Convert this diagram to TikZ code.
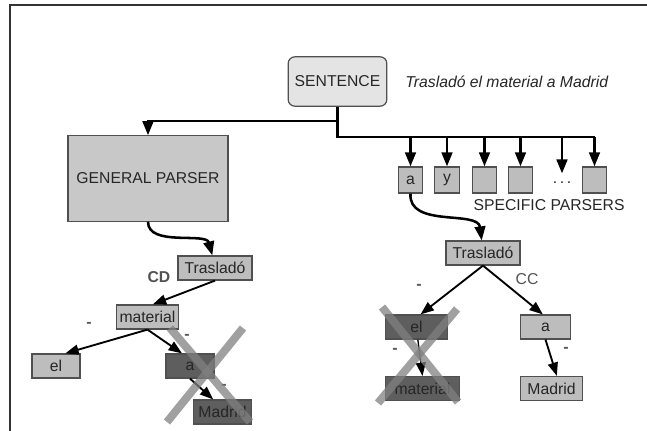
\documentclass[tikz,border=0pt]{standalone}
\usepackage{fontspec}
\setmainfont{Liberation Sans}
\usepackage{tikz}
\usetikzlibrary{arrows.meta,positioning,calc}
\usepackage{xcolor}
\definecolor{sentfill}{HTML}{E4E4E4}
\definecolor{gpfill}{HTML}{C8C8C8}
\definecolor{wordfill}{HTML}{BDBDBD}
\definecolor{cutfill}{HTML}{5E5E5E}
\definecolor{edgegray}{HTML}{505050}

\begin{document}
\begin{tikzpicture}[
    x=0.75pt, y=-0.75pt,
    every node/.style={font=\fontsize{11.8}{13}\selectfont, text=black!85},
    box/.style={rectangle, draw=edgegray, line width=0.9pt, inner sep=0pt},
    sentbox/.style={box, fill=sentfill, rounded corners=5pt,
                    minimum width=74pt, minimum height=37pt},
    parser/.style={box, fill=gpfill, minimum width=120pt, minimum height=64pt},
    spbox/.style={box, fill=wordfill, minimum width=18.5pt, minimum height=19.5pt},
    word/.style={box, fill=wordfill, minimum height=18pt},
    cutword/.style={word, fill=cutfill},
    rel/.style={text=black!68},
    dashmark/.style={text=black!65, font=\bfseries\fontsize{12}{13}\selectfont},
    link/.style={line width=1.9pt, -{Triangle[length=10.5pt,width=8pt]}},
    dep/.style={line width=1.4pt, -{Triangle[length=10pt,width=7.5pt]}},
    cross/.style={line width=6pt, draw=gray, opacity=0.75}
  ]
  \useasboundingbox (0,0) rectangle (647,431);

  %% Frame
  \draw[black!80, line width=1.2pt] (10,431) -- (10,5) -- (647,5);

  %% Sentence
  \node[sentbox] (sent) at (337.5,81.5) {SENTENCE};
  \node[right=10pt of sent, font=\itshape\fontsize{11.8}{13}\selectfont] (text)
        {Trasladó el material a Madrid};

  %% General parser
  \node[parser] (gp) at (148,178.5) {GENERAL PARSER};

  %% Specific parsers
  \node[spbox] (sp1) at (410.5,180) {a};
  \node[spbox] (sp2) at (447,180) {y};
  \node[spbox] (sp3) at (484.5,180) {};
  \node[spbox] (sp4) at (520.5,180) {};
  \node (dots) at (562,183) {.\,.\,.};
  \node[spbox] (sp6) at (594.5,180) {};
  \node[below right=1pt and -2pt of sp3.south west] (splabel) {SPECIFIC PARSERS};

  \coordinate (busl) at (337.5,121);
  \coordinate (busr) at (337.5,137);
  \draw[link] (sent.south) -- (busl) -| (gp.north);
  \draw[line width=1.9pt] (busl) -- (busr) -- (594.5,137);
  \foreach \dst in {sp1,sp2,sp3,sp4,sp6}{
    \draw[link] (busr -| \dst.north) -- (\dst.north);
  }
  \draw[link] (busr -| dots.north) -- ([yshift=3pt]dots.north);

  %% Left tree (general parser)
  \node[word, minimum width=55.5pt] (lTr) at (215,268) {Trasladó};
  \node[word, minimum width=46pt] (lmat) at (147.5,317) {material};
  \node[word, minimum width=36pt] (lel) at (56,366) {el};
  \node[cutword, minimum width=36pt] (la) at (190,366) {a};
  \node[cutword, minimum width=44pt] (lmad) at (222.5,412) {Madrid};

  \draw[link] (gp.south) .. controls (148,247) and (206,232) .. ([xshift=-2pt]lTr.north);
  \draw[dep] (lTr.south) -- ([xshift=4pt]lmat.north);
  \draw[dep] (lmat.south) -- ([xshift=7pt]lel.north);
  \draw[dep] (lmat.south) -- ([xshift=-6pt]la.north);
  \draw[dep] (la.south) -- ([xshift=-7pt]lmad.north);

  \node[rel, font=\bfseries\fontsize{11.8}{13}\selectfont] at (159,277) {CD};
  \node[dashmark] at (89,325) {-};
  \node[dashmark] at (187,337) {-};
  \node[dashmark] at (224,387) {-};

  \draw[cross] (170,328) -- (250,422);
  \draw[cross] (243,328) -- (167,422);

  %% Right tree (specific parser "a")
  \node[word, minimum width=55.5pt] (rTr) at (483,253) {Trasladó};
  \node[cutword, minimum width=46pt] (rel) at (416.5,327) {el};
  \node[word, minimum width=37pt] (ra) at (545.5,327) {a};
  \node[cutword, minimum width=55pt] (rmat) at (422.5,388.5) {material};
  \node[word, minimum width=46pt] (rmad) at (551.5,388.5) {Madrid};

  \draw[link] (sp1.south) .. controls (408,228) and (478,210) .. ([xshift=-1pt]rTr.north);
  \draw[dep] (rTr.south) -- ([xshift=3pt]rel.north);
  \draw[dep] (rTr.south) -- ([xshift=-2pt]ra.north);
  \draw[dep] (ra.south) -- ([xshift=4pt]rmad.north);
  \draw[dep, line width=1pt] ([xshift=1pt]rel.south) -- (rmat.north);

  \node[rel] at (527,279) {CC};
  \node[dashmark] at (419,287) {-};
  \node[dashmark] at (395,351) {-};
  \node[dashmark] at (566,350) {-};

  \draw[cross] (382,307) -- (458,402);
  \draw[cross] (457,309) -- (378,403);

\end{tikzpicture}
\end{document}
